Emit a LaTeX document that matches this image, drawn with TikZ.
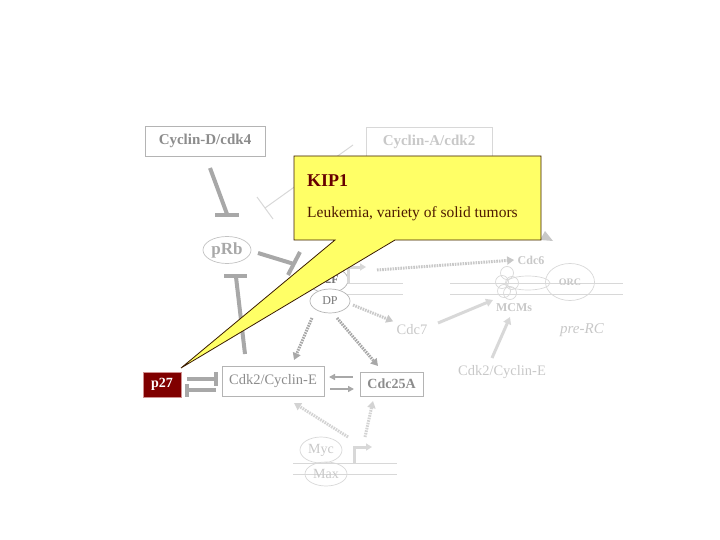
\documentclass[tikz,border=0pt]{standalone}
\usepackage{fontspec}
\setmainfont{Liberation Serif}
\usetikzlibrary{arrows.meta,shapes.geometric}
\definecolor{barg}{HTML}{A8A8A8}
\definecolor{boxg}{HTML}{B4B4B4}
\definecolor{midtxt}{HTML}{8C8C8C}
\definecolor{dimtxt}{HTML}{C8C8C8}
\definecolor{dimline}{HTML}{D8D8D8}
\definecolor{calloutfill}{HTML}{FFFF66}
\definecolor{calloutline}{HTML}{3A1A00}
\definecolor{kiptxt}{HTML}{660000}
\definecolor{leutxt}{HTML}{4D1A00}
\definecolor{pdark}{HTML}{800000}
\definecolor{pedge}{HTML}{D09090}
\definecolor{e2ftxt}{HTML}{777777}
\tikzset{
  rectbox/.style={draw=boxg,line width=0.8pt,inner sep=0pt},
  ellnode/.style={ellipse,draw=#1,line width=0.7pt,inner sep=0pt},
  tbar/.style={draw=barg,line width=4pt},
  thinbar/.style={draw=dimline,line width=1pt},
  dotarrow/.style={draw=#1,line width=3pt,dash pattern=on 1.6pt off 1pt,-{Triangle[length=7pt,width=8pt]}},
  solarrow/.style={draw=#1,line width=3pt,-{Triangle[length=7pt,width=8pt]}},
  dna/.style={draw=dimline,line width=0.9pt},
  fs/.style={font=\fontsize{#1}{#1}\selectfont},
  fsb/.style={font=\fontsize{#1}{#1}\selectfont\bfseries},
}
\begin{document}
\begin{tikzpicture}[x=1pt,y=-1pt]
\useasboundingbox (0,0) rectangle (720,540);

% ---------- boxes and nodes ----------
\node[rectbox,minimum width=120pt,minimum height=30pt,fsb=15,text=midtxt] (cycD) at (205,141) {Cyclin-D/cdk4};
\node[rectbox,draw=dimline,minimum width=126pt,minimum height=30pt,fsb=15,text=dimtxt] (cycA) at (429,142) {Cyclin-A/cdk2};
\node[ellnode=boxg!80,minimum width=48pt,minimum height=27pt,fsb=17,text=barg] (pRb) at (227,250) {pRb};

% DNA (upper)
\coordinate (dnaA1) at (343,283); \coordinate (dnaA2) at (403,283);
\coordinate (dnaB1) at (343,294); \coordinate (dnaB2) at (403,294);
\coordinate (dnaC1) at (450,283); \coordinate (dnaC2) at (623,283);
\coordinate (dnaD1) at (450,294); \coordinate (dnaD2) at (623,294);
\draw[dna] (dnaA1) -- (dnaA2); \draw[dna] (dnaB1) -- (dnaB2);
\draw[dna] (dnaC1) -- (dnaC2); \draw[dna] (dnaD1) -- (dnaD2);

\node[ellnode=boxg,fill=white,minimum width=40pt,minimum height=26pt,fsb=12,text=e2ftxt] (E2F) at (328,280) {E2F};
\node[ellnode=boxg,fill=white,minimum width=40pt,minimum height=24pt,fs=12,text=e2ftxt] (DP) at (330,301) {DP};

\node[fsb=12,text=dimtxt] (cdc6) at (531,260) {Cdc6};
\node[ellnode=dimline,minimum width=49pt,minimum height=37pt,fsb=10,text=dimtxt] (orc) at (570,282) {ORC};
% MCM complex
\draw[dimline,line width=0.7pt] (528,283) ellipse (22pt and 7pt);
\foreach \mx/\my in {507/273,502/282,512/283,504/291,510/293}
  \draw[dimline,line width=0.7pt] (\mx,\my) circle (6.5pt);
\node[fsb=12,text=dimtxt] (mcm) at (514,308) {MCMs};
\node[fs=14.5,text=dimtxt] (cdc7) at (412,330) {Cdc7};
\node[text=dimtxt,font=\fontsize{15}{15}\selectfont\itshape] (preRC) at (582,330) {pre-RC};
\node[fs=14.5,text=dimtxt] (cycEr) at (502,372) {Cdk2/Cyclin-E};

\node[draw=pedge,fill=pdark,line width=0.8pt,minimum width=38pt,minimum height=25pt,inner sep=0pt,fsb=14,text=white] (p27) at (162,384.5) {p27};
\node[rectbox,minimum width=102pt,minimum height=30pt,fs=14.5,text=midtxt] (cycE) at (273,381) {Cdk2/Cyclin-E};
\node[rectbox,minimum width=63pt,minimum height=24pt,fsb=14,text=midtxt] (cdc25) at (391.5,384) {Cdc25A};

% DNA (lower) and Myc/Max
\coordinate (dnaE1) at (293,463); \coordinate (dnaE2) at (397,463);
\coordinate (dnaF1) at (293,474); \coordinate (dnaF2) at (397,474);
\draw[dna] (dnaE1) -- (dnaE2); \draw[dna] (dnaF1) -- (dnaF2);
\node[ellnode=dimline,minimum width=42pt,minimum height=26pt,fs=14,text=dimtxt] (myc) at (321,450) {Myc};
\node[ellnode=dimline,minimum width=42pt,minimum height=24pt,fs=14,text=dimtxt] (max) at (326,474) {Max};

% ---------- inhibition bars ----------
\coordinate (tdS) at (210,168); \coordinate (tdE) at (227,214);
\coordinate (tdB1) at (215,215); \coordinate (tdB2) at (239,215);
\draw[tbar] (tdS) -- (tdE); \draw[tbar] (tdB1) -- (tdB2);

\coordinate (teS) at (258,253); \coordinate (teE) at (294,264);
\coordinate (teB1) at (300,252); \coordinate (teB2) at (288,275);
\draw[tbar] (teS) -- (teE); \draw[tbar] (teB1) -- (teB2);

\coordinate (tuS) at (245,354); \coordinate (tuE) at (236,277);
\coordinate (tuB1) at (224,276); \coordinate (tuB2) at (247,276);
\draw[tbar] (tuS) -- (tuE); \draw[tbar] (tuB1) -- (tuB2);

\coordinate (taS) at (353,145); \coordinate (taE) at (265,208);
\coordinate (taB1) at (257,197); \coordinate (taB2) at (273,219);
\draw[thinbar] (taS) -- (taE); \draw[thinbar] (taB1) -- (taB2);

% p27 <-> Cdk2/Cyclin-E
\coordinate (pa1) at (187,379); \coordinate (pa2) at (216,379);
\coordinate (pab1) at (216,372); \coordinate (pab2) at (216,386);
\draw[tbar] (pa1) -- (pa2); \draw[tbar] (pab1) -- (pab2);
\coordinate (pb1) at (216,390); \coordinate (pb2) at (187,390);
\coordinate (pbb1) at (187,384); \coordinate (pbb2) at (187,397);
\draw[tbar] (pb1) -- (pb2); \draw[tbar] (pbb1) -- (pbb2);

% Cdk2/Cyclin-E <-> Cdc25A
\coordinate (ca1) at (353,377); \coordinate (ca2) at (329,377);
\coordinate (cb1) at (330,389); \coordinate (cb2) at (354,389);
\draw[draw=barg,line width=2.5pt,-{Triangle[length=6pt,width=6pt]}] (ca1) -- (ca2);
\draw[draw=barg,line width=2.5pt,-{Triangle[length=6pt,width=6pt]}] (cb1) -- (cb2);

% ---------- promoters ----------
\coordinate (prA1) at (348,283); \coordinate (prA2) at (348,267); \coordinate (prA3) at (366,267);
\draw[draw=dimline,line width=3pt,-{Triangle[length=6pt,width=7pt]}] (prA1) -- (prA2) -- (prA3);
\coordinate (prB1) at (354,463); \coordinate (prB2) at (354,447); \coordinate (prB3) at (372,447);
\draw[draw=dimline,line width=3pt,-{Triangle[length=6pt,width=7pt]}] (prB1) -- (prB2) -- (prB3);

% ---------- activation arrows ----------
\coordinate (e6S) at (377,270);
\draw[dotarrow=dimtxt] (e6S) -- (cdc6.west);
\coordinate (d7S) at (353,305);
\draw[dotarrow=dimtxt] (d7S) -- (cdc7.north west);
\coordinate (dcS) at (312,318); \coordinate (dcE) at (294,360);
\draw[dotarrow=barg] (dcS) -- (dcE);
\coordinate (ddS) at (337,318); \coordinate (ddE) at (378,366);
\draw[dotarrow=barg] (ddS) -- (ddE);
\coordinate (m1S) at (348,437); \coordinate (m1E) at (294,403);
\draw[dotarrow=dimtxt!80] (m1S) -- (m1E);
\coordinate (m2S) at (365,437); \coordinate (m2E) at (373,401);
\draw[dotarrow=dimtxt!80] (m2S) -- (m2E);
\coordinate (c7S) at (438,323); \coordinate (c7E) at (493,300);
\draw[solarrow=dimline] (c7S) -- (c7E);
\coordinate (ceS) at (492,358); \coordinate (ceE) at (510,317);
\draw[solarrow=dimline] (ceS) -- (ceE);

% peeking shape below callout
\fill[dimtxt] (540,240) -- (545,231) -- (553,241) -- cycle;

% ---------- callout ----------
\coordinate (coTip) at (181,368);
\draw[fill=calloutfill,draw=calloutline,line width=0.8pt]
  (294,156) -- (541,156) -- (541,240) -- (395,240) -- (coTip) -- (335,240) -- (294,240) -- cycle;
\node[anchor=west,fsb=18,text=kiptxt,inner sep=0pt] (kip) at (307,181) {KIP1};
\node[anchor=west,fs=15.5,text=leutxt,inner sep=0pt] (leu) at (307,214) {Leukemia, variety of solid tumors};
\end{tikzpicture}
\end{document}
